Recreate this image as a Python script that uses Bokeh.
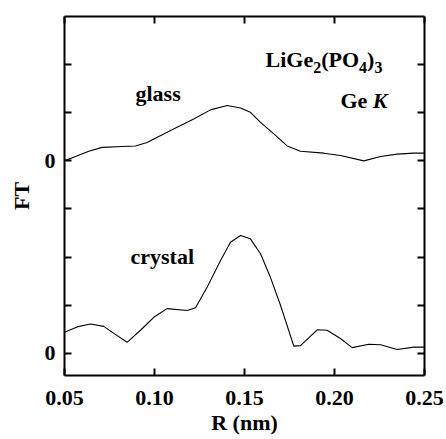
from bokeh.plotting import figure
from bokeh.models import (LinearAxis, FixedTicker, Range1d, Label)
from bokeh.embed import file_html
from bokeh.resources import INLINE

# ---- data ----
glass_r = [0.0500, 0.0561, 0.0635, 0.0709, 0.0821, 0.0894, 0.0959, 0.1089,
           0.1218, 0.1311, 0.1404, 0.1478, 0.1533, 0.1589, 0.1663, 0.1737,
           0.1811, 0.1941, 0.2033, 0.2163, 0.2256, 0.2348, 0.2441, 0.2500]
glass_ft = [0.00, 0.09, 0.20, 0.28, 0.30, 0.31, 0.38, 0.63,
            0.87, 1.06, 1.15, 1.10, 1.01, 0.80, 0.56, 0.31,
            0.20, 0.16, 0.11, 0.00, 0.09, 0.14, 0.16, 0.16]
glass_offset = 4

crystal_r = [0.0500, 0.0570, 0.0644, 0.0718, 0.0780, 0.0848, 0.0922, 0.0996,
             0.1070, 0.1182, 0.1228, 0.1293, 0.1367, 0.1422, 0.1478, 0.1533,
             0.1589, 0.1644, 0.1700, 0.1774, 0.1811, 0.1904, 0.1959, 0.2033,
             0.2098, 0.2191, 0.2256, 0.2348, 0.2441, 0.2500]
crystal_ft = [0.44, 0.55, 0.61, 0.56, 0.40, 0.23, 0.48, 0.75,
              0.93, 0.89, 0.95, 1.38, 1.93, 2.31, 2.45, 2.38,
              2.07, 1.58, 1.00, 0.15, 0.16, 0.49, 0.48, 0.31,
              0.12, 0.19, 0.18, 0.08, 0.13, 0.13]
crystal_offset = 0

x_ticks = [0.05, 0.10, 0.15, 0.20, 0.25]
x_tick_labels = ["0.05", "0.10", "0.15", "0.20", "0.25"]
y_ticks = [0, 1, 2, 3, 4, 5, 6]
y_tick_labels = {0: "0", 4: "0"}

FONT = "Liberation Serif"

p = figure(width=446, height=439, output_backend="svg", toolbar_location=None,
           x_range=Range1d(0.05, 0.25), y_range=Range1d(-0.46, 7.0),
           min_border_left=64, min_border_right=22, min_border_top=16,
           min_border_bottom=64)
p.grid.visible = False
p.outline_line_color = None
p.background_fill_color = "white"
p.border_fill_color = "white"

p.line(glass_r, [v + glass_offset for v in glass_ft], line_color="black", line_width=1.1)
p.line(crystal_r, [v + crystal_offset for v in crystal_ft], line_color="black", line_width=1.1)


def style_axis(ax, labels=True):
    ax.axis_line_width = 2
    ax.axis_line_color = "black"
    ax.major_tick_in = 7
    ax.major_tick_out = 0
    ax.major_tick_line_width = 2
    ax.minor_tick_line_color = None
    ax.major_label_text_font = FONT
    ax.major_label_text_font_style = "bold"
    ax.major_label_text_font_size = "22px"
    ax.major_label_text_color = "black"
    if not labels:
        ax.major_label_text_font_size = "0px"


xa = p.xaxis[0]
xa.ticker = FixedTicker(ticks=x_ticks)
xa.major_label_overrides = dict(zip(x_ticks, x_tick_labels))
style_axis(xa)
xa.major_label_standoff = 15
xa.axis_label = "R (nm)"
xa.axis_label_text_font = FONT
xa.axis_label_text_font_style = "bold"
xa.axis_label_text_font_size = "22px"
xa.axis_label_text_color = "black"
xa.axis_label_standoff = 2

ya = p.yaxis[0]
ya.ticker = FixedTicker(ticks=y_ticks)
ya.major_label_overrides = {t: y_tick_labels.get(t, "") for t in y_ticks}
style_axis(ya)
ya.major_label_standoff = 9
ya.axis_label = "FT"
ya.axis_label_text_font = FONT
ya.axis_label_text_font_style = "bold"
ya.axis_label_text_font_size = "22px"
ya.axis_label_text_color = "black"
ya.axis_label_standoff = 8

top = LinearAxis(ticker=FixedTicker(ticks=x_ticks))
style_axis(top, labels=False)
top.major_label_overrides = {t: "" for t in x_ticks}
p.add_layout(top, "above")

right = LinearAxis(ticker=FixedTicker(ticks=y_ticks))
style_axis(right, labels=False)
right.major_label_overrides = {t: "" for t in y_ticks}
p.add_layout(right, "right")

SHIFT = 7  # text renders slightly below the requested baseline


def R(px):
    return 0.05 + (px - 64) / 1800.0


def Y(py):
    return (353 - (py - SHIFT)) / 48.13


def lab(text, px, py, size="22px", style="bold", align="left", dx=0, dy=0):
    p.add_layout(Label(x=R(px), y=Y(py), text=text, x_offset=dx, y_offset=dy,
                       text_font=FONT, text_font_style=style, text_font_size=size,
                       text_align=align, text_baseline="alphabetic",
                       text_color="black"))


lab("glass", 135, 100)
lab("crystal", 130, 263)

# LiGe2(PO4)3
F = 22
S = 16
x0 = 265
lab("LiGe", x0, 66)
x1 = x0 + 2.167 * F
lab("2", x1, 66, size=f"{S}px", dy=-8)
x2 = x1 + 0.5 * S
lab("(PO", x2, 66)
x3 = x2 + 1.722 * F
lab("4", x3, 66, size=f"{S}px", dy=-8)
x4 = x3 + 0.5 * S
lab(")", x4, 66)
x5 = x4 + 0.333 * F
lab("3", x5, 66, size=f"{S}px", dy=-8)

# Ge K
lab("K", 387, 107, style="bold italic", align="right")
lab("Ge", 387 - 0.667 * F - 0.25 * F, 107, align="right")

open("out.html", "w").write(file_html(p, INLINE))
